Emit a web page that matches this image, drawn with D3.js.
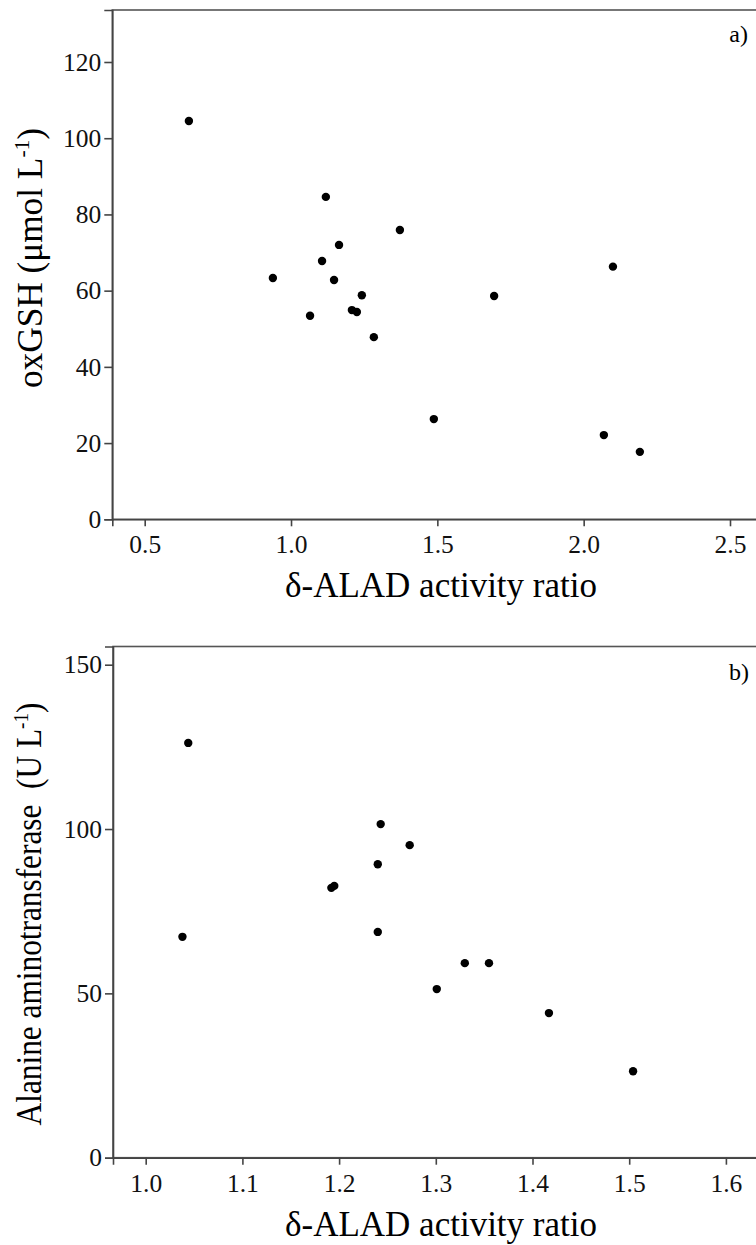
<!DOCTYPE html>
<html>
<head>
<meta charset="utf-8">
<script src="https://cdn.jsdelivr.net/npm/d3@7"></script>
<style>
  html, body { margin: 0; padding: 0; background: #fff; }
  svg { display: block; }
</style>
</head>
<body>
<svg id="chart" width="756" height="1245"></svg>
<script>
// Panel a data
const aX = [0.651, 0.938, 1.065, 1.106, 1.119, 1.147, 1.164, 1.208, 1.225, 1.242, 1.283, 1.372, 1.488, 1.694, 2.069, 2.100, 2.192];
const aY = [104.5, 63.3, 53.4, 67.8, 84.6, 62.8, 72.0, 54.9, 54.4, 58.8, 47.8, 75.9, 26.3, 58.6, 22.1, 66.3, 17.7];
const aXTicks = [0.5, 1.0, 1.5, 2.0, 2.5];
const aYTicks = [0, 20, 40, 60, 80, 100, 120];

// Panel b data
const bX = [1.044, 1.038, 1.243, 1.273, 1.240, 1.192, 1.195, 1.240, 1.301, 1.330, 1.355, 1.417, 1.504];
const bY = [126.2, 67.2, 101.5, 95.1, 89.3, 82.1, 82.7, 68.7, 51.3, 59.2, 59.2, 44.0, 26.3];
const bXTicks = [1.0, 1.1, 1.2, 1.3, 1.4, 1.5, 1.6];
const bYTicks = [0, 50, 100, 150];

const FONT = "'Liberation Serif', 'Times New Roman', 'DejaVu Serif', serif";
const svg = d3.select("#chart");

function panel(cfg) {
  const x = d3.scaleLinear().domain(cfg.xDomain).range([cfg.left, cfg.right]);
  const y = d3.scaleLinear().domain(cfg.yDomain).range([cfg.bottom, cfg.top]);
  const g = svg.append("g");

  g.append("rect")
    .attr("x", cfg.left).attr("y", cfg.top)
    .attr("width", cfg.right - cfg.left).attr("height", cfg.bottom - cfg.top)
    .attr("fill", "none").attr("stroke", "#555").attr("stroke-width", 1.6);

  const xa = g.append("g").attr("transform", `translate(0,${cfg.bottom})`)
    .call(d3.axisBottom(x).tickValues(cfg.xTicks).tickSize(7).tickPadding(9).tickFormat(d3.format(".1f")));
  const ya = g.append("g").attr("transform", `translate(${cfg.left},0)`)
    .call(d3.axisLeft(y).tickValues(cfg.yTicks).tickSize(8).tickPadding(3).tickFormat(d3.format("d")));
  [xa, ya].forEach(a => {
    a.attr("font-family", null);
    a.select(".domain").attr("stroke", "#444").attr("stroke-width", 1.6);
    a.selectAll(".tick line").attr("stroke", "#444").attr("stroke-width", 1.6);
    a.selectAll(".tick text").style("font-family", FONT).style("font-size", "25.5px").attr("fill", "#111");
  });

  g.selectAll("circle.pt").data(cfg.xs.map((v, i) => [v, cfg.ys[i]]))
    .enter().append("circle").attr("class", "pt")
    .attr("cx", d => x(d[0])).attr("cy", d => y(d[1]))
    .attr("r", 4.2).attr("fill", "#000");

  g.append("text").attr("x", cfg.letterX).attr("y", cfg.letterY)
    .attr("text-anchor", "end").style("font-family", FONT).style("font-size", "24px").text(cfg.letter);

  g.append("text").attr("x", cfg.xTitleX).attr("y", cfg.xTitleY)
    .attr("text-anchor", "middle").style("font-family", FONT).style("font-size", "35px")
    .text("δ-ALAD activity ratio");

  const yt = g.append("text")
    .attr("transform", `translate(${cfg.yTitleX},${cfg.yTitleY}) rotate(-90) scale(${cfg.yScale},1)`)
    .attr("text-anchor", "middle").style("font-family", FONT).style("font-size", cfg.yFont + "px")
    .style("white-space", "pre");
  yt.append("tspan").text(cfg.yTitle);
  yt.append("tspan").style("font-size", "22px").attr("dy", -13).text("-1");
  yt.append("tspan").attr("dy", 13).text(")");
}

panel({
  left: 112.3, right: 762, top: 10, bottom: 519.3,
  xDomain: [0.5 - (144.7 - 112.3) / 292.65, 0.5 + (762 - 144.7) / 292.65],
  yDomain: [0, 120 * (519.3 - 10) / (519.3 - 62)],
  xTicks: aXTicks, yTicks: aYTicks, xs: aX, ys: aY,
  letter: "a)", letterX: 748, letterY: 42,
  xTitleX: 441, xTitleY: 597,
  yTitleX: 42, yTitleY: 258, yScale: 0.98, yFont: 36,
  yTitle: "oxGSH (μmol L"
});

panel({
  left: 113, right: 762, top: 646.5, bottom: 1157.7,
  xDomain: [1.0 - (145.7 - 113) / 967, 1.0 + (762 - 145.7) / 967],
  yDomain: [0, 150 * (1157.7 - 646.5) / (1157.7 - 664.7)],
  xTicks: bXTicks, yTicks: bYTicks, xs: bX, ys: bY,
  letter: "b)", letterX: 749, letterY: 680,
  xTitleX: 441, xTitleY: 1236,
  yTitleX: 41, yTitleY: 914, yScale: 0.87, yFont: 36,
  yTitle: "Alanine aminotransferase\u00a0 (U L"
});
</script>
</body>
</html>
